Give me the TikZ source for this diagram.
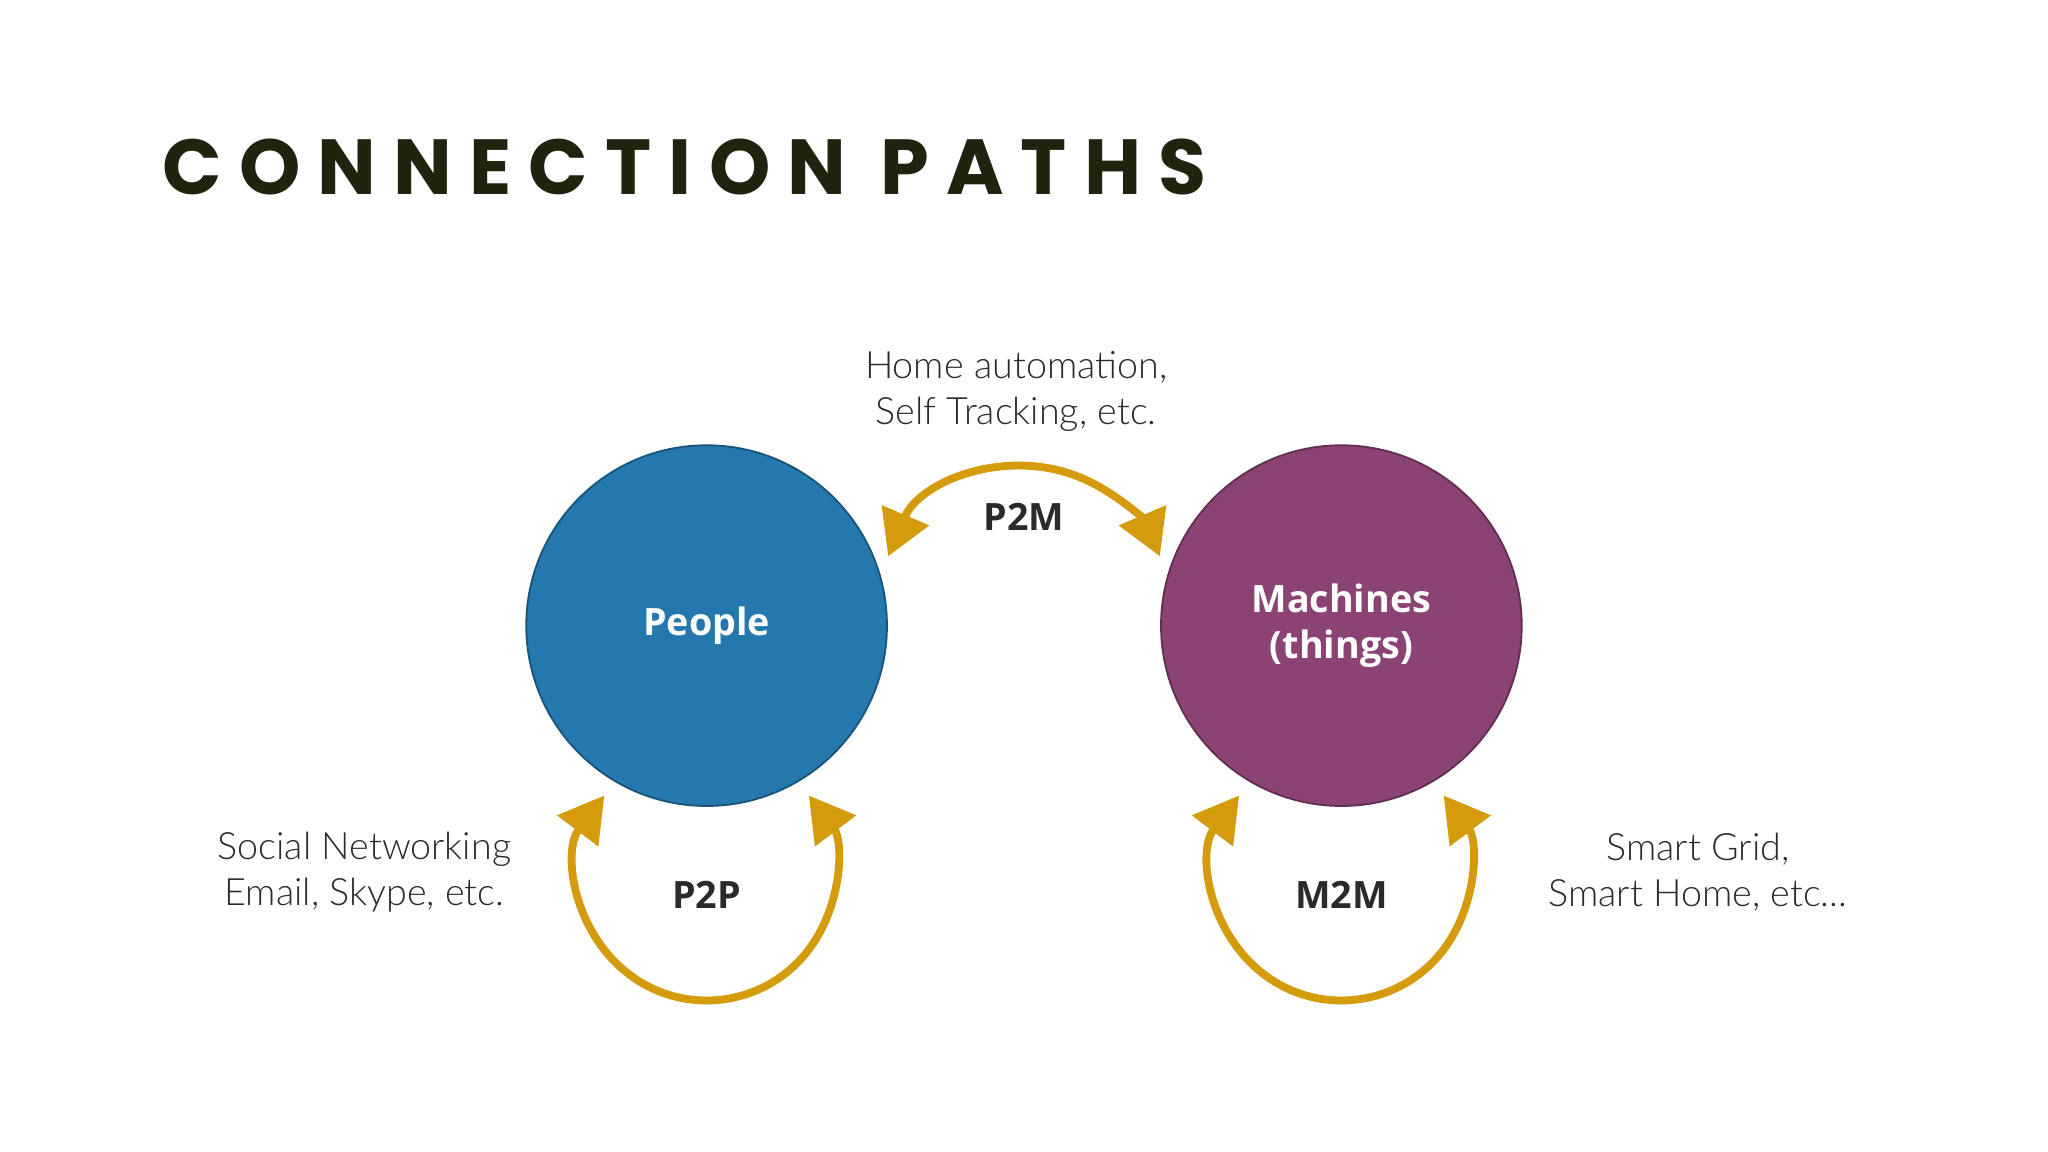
\documentclass[tikz,border=0pt]{standalone}
\usepackage{fontspec}
\setmainfont{Open Sans}
\newfontfamily\titlefont{Poppins}[LetterSpace=22]
\newfontfamily\lightfont{Lato}[UprightFont=* Light]
\usetikzlibrary{arrows.meta, calc}
\definecolor{titlecol}{HTML}{1F240F}
\definecolor{peoplecol}{HTML}{2478AE}
\definecolor{machinecol}{HTML}{8B4373}
\definecolor{loopcol}{HTML}{D49C0C}
\definecolor{textcol}{HTML}{2A2A2A}
\begin{document}
\begin{tikzpicture}[x=0.01cm, y=-0.01cm,
    circ/.style={circle, minimum size=2.76cm, inner sep=0pt, text=white,
      font=\fontsize{8.2}{10}\selectfont\bfseries, align=center},
    note/.style={align=center, text=textcol, font=\lightfont\fontsize{8.2}{10}\selectfont},
    tag/.style={text=textcol, font=\fontsize{8.2}{10}\selectfont\bfseries},
    link/.style={loopcol, line width=0.06cm,
      {Triangle[length=0.34cm,width=0.38cm]}-{Triangle[length=0.34cm,width=0.38cm]}}]
  \useasboundingbox (0,0) rectangle (1568,882);
  \node[anchor=west, text=titlecol, font=\titlefont\bfseries\fontsize{17}{20}\selectfont] (title) at (112,128) {CONNECTION PATHS};

  \node[circ, fill=peoplecol, draw=peoplecol!70!black] (people) at (541,479) {People};
  \node[circ, fill=machinecol, draw=machinecol!70!black] (machines) at (1027,479) {Machines\\(things)};

  \coordinate (p2mstart) at ($(784,470)+(203:113)$);
  \coordinate (p2pstart) at ($(541,668)+(217:98)$);
  \coordinate (m2mstart) at ($(1027,668)+(217:98)$);

  \draw[link] (p2mstart) arc[start angle=203, end angle=337, radius=113];
  \draw[link] (p2pstart) arc[start angle=217, end angle=-37, radius=98];
  \draw[link] (m2mstart) arc[start angle=217, end angle=-37, radius=98];

  \node[tag] (p2m) at (784,396) {P2M};
  \node[tag] (p2p) at (541,685) {P2P};
  \node[tag] (m2m) at (1027,685) {M2M};

  \node[note] (p2mnote) at (778,300) {Home automation,\\Self Tracking, etc.};
  \node[note] (p2pnote) at (279,668) {Social Networking\\Email, Skype, etc.};
  \node[note] (m2mnote) at (1300,668) {Smart Grid,\\Smart Home, etc...};
\end{tikzpicture}
\end{document}
